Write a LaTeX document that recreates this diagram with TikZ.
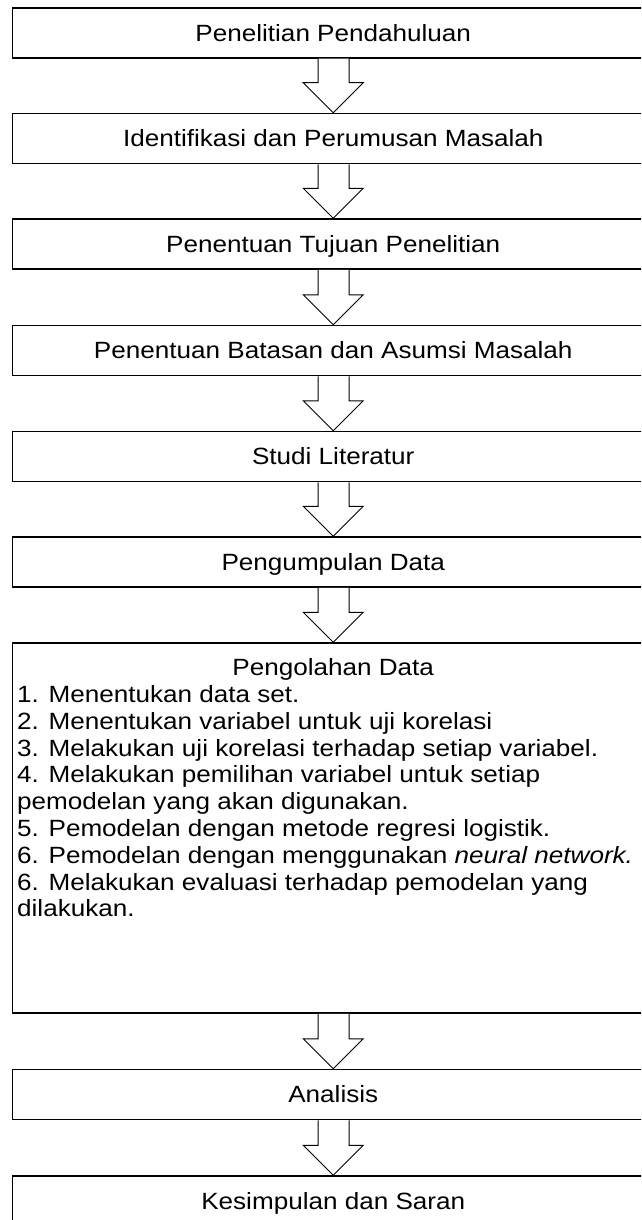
\documentclass[tikz,border=0pt]{standalone}
\usepackage{fontspec}
\setmainfont{Liberation Sans}[FakeStretch=1.11]
\usetikzlibrary{calc}
\tikzset{
  stepbox/.style={draw=black, line width=1.5pt, rectangle, minimum width=641.5pt,
    minimum height=50pt, inner sep=0pt, text height=16.8pt, text depth=0pt},
  bigbox/.style={draw=black, line width=1.5pt, rectangle, minimum width=641.5pt,
    minimum height=370pt, inner sep=0pt},
  listline/.style={anchor=base west, inner sep=0pt},
  blockarrow/.style={draw=black, line width=1pt, fill=white, line join=miter},
}
\newcommand{\flowarrow}[2]{%
  \draw[blockarrow] ($(#1.south)+(-15.25,0)$) -- ($(#2.north)+(-15.25,30)$)
    -- ($(#2.north)+(-30,30)$) -- (#2.north) -- ($(#2.north)+(30,30)$)
    -- ($(#2.north)+(15.75,30)$) -- ($(#1.south)+(15.75,0)$);}
\begin{document}
\begin{tikzpicture}[x=1pt,y=1pt,font=\fontsize{23.5}{28}\selectfont]
\useasboundingbox (0,0) rectangle (641,-1220);
\clip (0,0) rectangle (641,-1220);
\fill[white] (0,0) rectangle (641,-1220);
\node[stepbox] (b1) at (333.25,-33) {Penelitian Pendahuluan};
\node[stepbox] (b2) at (333.25,-138.5) {Identifikasi dan Perumusan Masalah};
\node[stepbox] (b3) at (333.25,-244) {Penentuan Tujuan Penelitian};
\node[stepbox] (b4) at (333.25,-350.5) {Penentuan Batasan dan Asumsi Masalah};
\node[stepbox] (b5) at (333.25,-456.5) {Studi Literatur};
\node[stepbox] (b6) at (333.25,-562) {Pengumpulan Data};
\node[bigbox] (b7) at (333.25,-828) {};
\node[stepbox] (b8) at (333.25,-1094.5) {Analisis};
\node[stepbox] (b9) at (333.25,-1201) {Kesimpulan dan Saran};
\node[anchor=base, inner sep=0pt] (t7) at (333.25,-675) {Pengolahan Data};
\node[listline] (l1) at (17,-702.5) {1. Menentukan data set.};
\node[listline] (l2) at (17,-729.3) {2. Menentukan variabel untuk uji korelasi};
\node[listline] (l3) at (17,-756.1) {3. Melakukan uji korelasi terhadap setiap variabel.};
\node[listline] (l4) at (17,-782.9) {4. Melakukan pemilihan variabel untuk setiap};
\node[listline] (l5) at (17,-809.7) {pemodelan yang akan digunakan.};
\node[listline] (l6) at (17,-836.5) {5. Pemodelan dengan metode regresi logistik.};
\node[listline] (l7) at (17,-863.3) {6. Pemodelan dengan menggunakan \textit{neural network.}};
\node[listline] (l8) at (17,-890.1) {6. Melakukan evaluasi terhadap pemodelan yang};
\node[listline] (l9) at (17,-916.9) {dilakukan.};
\flowarrow{b1}{b2}
\flowarrow{b2}{b3}
\flowarrow{b3}{b4}
\flowarrow{b4}{b5}
\flowarrow{b5}{b6}
\flowarrow{b6}{b7}
\flowarrow{b7}{b8}
\flowarrow{b8}{b9}
\end{tikzpicture}
\end{document}
